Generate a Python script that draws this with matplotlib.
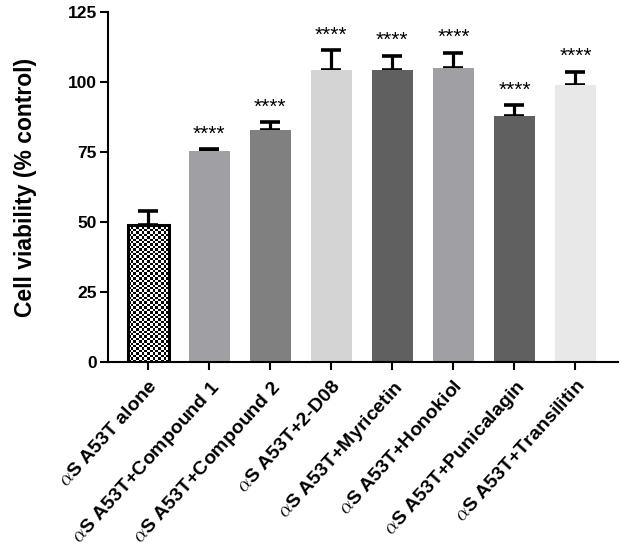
import numpy as np
import matplotlib
matplotlib.use("Agg")
import matplotlib.pyplot as plt

plt.rcParams['font.family'] = ['Liberation Sans', 'DejaVu Sans']
plt.rcParams['mathtext.fontset'] = 'cm'

labels = [r'$\alpha$S A53T alone', r'$\alpha$S A53T+Compound 1', r'$\alpha$S A53T+Compound 2',
          r'$\alpha$S A53T+2-D08', r'$\alpha$S A53T+Myricetin', r'$\alpha$S A53T+Honokiol',
          r'$\alpha$S A53T+Punicalagin', r'$\alpha$S A53T+Transilitin']
means = [49, 75.5, 82.9, 104.5, 104.4, 105.0, 88.0, 98.9]
errs = [5.0, 0.6, 2.9, 7.0, 5.0, 5.5, 3.8, 4.8]
stars = ['', '****', '****', '****', '****', '****', '****', '****']
colors = ['white', '#a0a0a4', '#808080', '#d4d4d4', '#606060', '#a0a0a4', '#606060', '#e8e8e8']

fig = plt.figure(figsize=(6.38, 5.49), dpi=100)
ax = fig.add_axes([0.169, 0.34, 0.80, 0.638])

x = np.arange(len(means))
w = 0.67
bars = ax.bar(x, means, width=w, color=colors, edgecolor='none', zorder=2)

# checkered first bar
b0 = bars[0]
b0.set_facecolor('none')
b0.set_edgecolor('black')
b0.set_linewidth(2.2)
b0.set_zorder(4)
nc, nr = 15, 57
chk = (np.indices((nr, nc)).sum(axis=0) % 2).astype(float)
im = ax.imshow(chk, cmap='gray', vmin=0, vmax=1, interpolation='nearest',
               extent=[x[0] - w / 2, x[0] + w / 2, 0, means[0]], aspect='auto', zorder=3)
im.set_clip_path(b0)

ax.errorbar(x, means, yerr=[np.zeros(len(errs)), errs], fmt='none', ecolor='black',
            elinewidth=2.3, capsize=7.5, capthick=2.6, zorder=1)

for xi, m, e, s in zip(x, means, errs, stars):
    if s:
        ax.annotate(s, (xi, m + e), xytext=(0, 4), textcoords='offset points',
                    ha='center', va='bottom', fontsize=15)

ax.set_xlim(-0.66, 7.7)
ax.set_ylim(0, 125)
ax.set_yticks([0, 25, 50, 75, 100, 125])
ax.set_xticks(x)
ax.set_xticklabels(labels, rotation=48, ha='right', rotation_mode='anchor',
                   fontsize=14, fontweight='bold')
for t in ax.get_yticklabels():
    t.set_fontweight('bold')
ax.tick_params(axis='y', labelsize=12.5, width=1.5, length=6, pad=2)
ax.tick_params(axis='x', width=1.5, length=6, pad=5)
ax.set_ylabel('Cell viability (% control)', fontsize=16.5, fontweight='bold', labelpad=22)
ax.spines['top'].set_visible(False)
ax.spines['right'].set_visible(False)
ax.spines['left'].set_linewidth(1.5)
ax.spines['bottom'].set_linewidth(1.5)

fig.savefig('out.png', dpi=100)
